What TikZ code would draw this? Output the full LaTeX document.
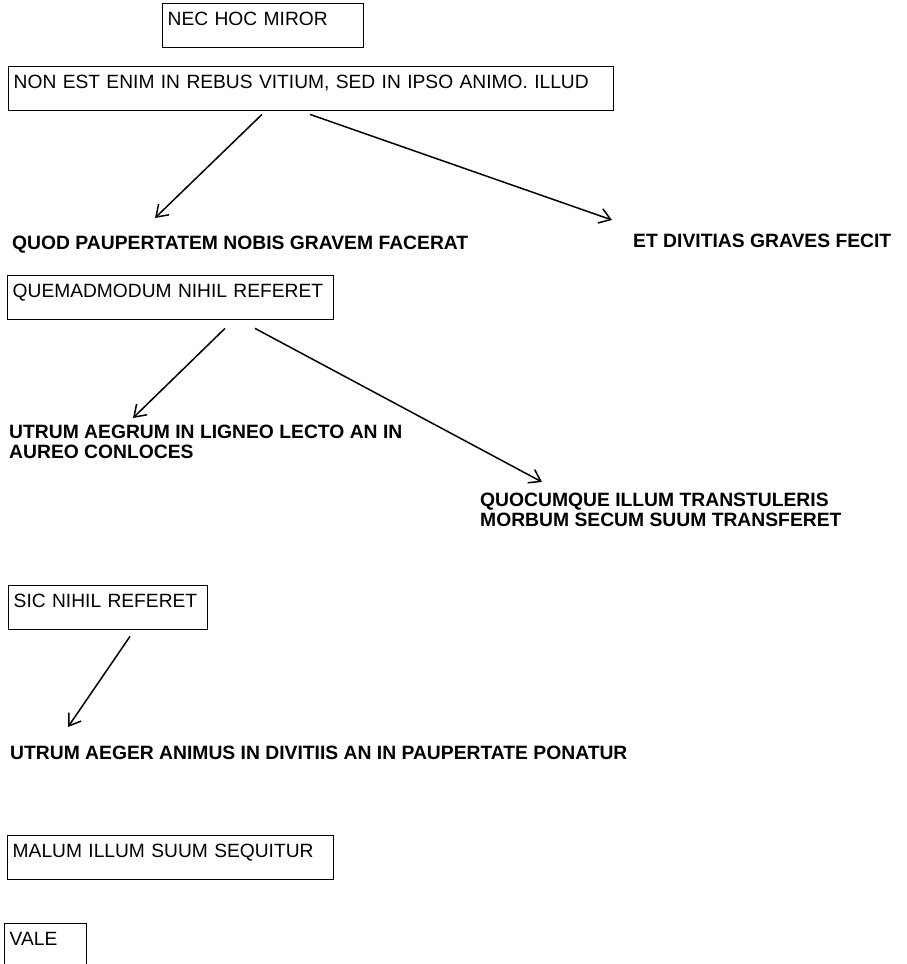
\documentclass[tikz,border=0pt]{standalone}
\usepackage{fontspec}
\setmainfont{Liberation Sans}
\usetikzlibrary{arrows.meta}
\begin{document}
\begin{tikzpicture}[x=1pt,y=-1pt,
  box/.style={draw, line width=1.4pt, anchor=north west, inner xsep=5pt, inner ysep=0pt,
    text height=22pt, text depth=22pt, align=left, font=\fontsize{19.2}{20}\selectfont},
  lbl/.style={anchor=north west, inner sep=0pt, align=left,
    font=\fontsize{19.3}{19.6}\selectfont\bfseries},
  arr/.style={line width=1.5pt, -{Straight Barb[length=11pt,width=15pt,line width=1.5pt]}}]
\clip (0,0) rectangle (906,964);
\fill[white] (0,0) rectangle (906,964);

% boxed statements
\node[box, text width=191pt] (b1) at (162,3) {NEC HOC MIROR};
\node[box, text width=595pt] (b2) at (8,66) {NON EST ENIM IN REBUS VITIUM, SED IN IPSO ANIMO. ILLUD};
\node[box, text width=316pt] (b3) at (7,275) {QUEMADMODUM NIHIL REFERET};
\node[box, text width=189pt] (b4) at (8,585) {SIC NIHIL REFERET};
\node[box, text width=316pt] (b5) at (7,835) {MALUM ILLUM SUUM SEQUITUR};
\node[box, text width=72pt, text depth=60pt] (b6) at (4,923) {VALE};

% bold consequences
\node[lbl] (t1) at (12,236) {QUOD PAUPERTATEM NOBIS GRAVEM FACERAT};
\node[lbl] (t2) at (633,234) {ET DIVITIAS GRAVES FECIT};
\node[lbl] (t3) at (9,425) {UTRUM AEGRUM IN LIGNEO LECTO AN IN\\AUREO CONLOCES};
\node[lbl] (t4) at (480,493) {QUOCUMQUE ILLUM TRANSTULERIS\\MORBUM SECUM SUUM TRANSFERET};
\node[lbl] (t5) at (10,746) {UTRUM AEGER ANIMUS IN DIVITIIS AN IN PAUPERTATE PONATUR};

% arrow tips just above the consequences
\coordinate (e1) at (155,218);
\coordinate (e2) at (612,220);
\coordinate (e3) at (133,418);
\coordinate (e4) at (542,482);
\coordinate (e5) at (68,727);

\draw[arr] ([xshift=254pt,yshift=-3pt]b2.south west) -- (e1);
\draw[arr] ([xshift=302pt,yshift=-3pt]b2.south west) -- (e2);
\draw[arr] ([xshift=218pt,yshift=-8pt]b3.south west) -- (e3);
\draw[arr] ([xshift=248pt,yshift=-8pt]b3.south west) -- (e4);
\draw[arr] ([xshift=122pt,yshift=-6pt]b4.south west) -- (e5);
\end{tikzpicture}
\end{document}
